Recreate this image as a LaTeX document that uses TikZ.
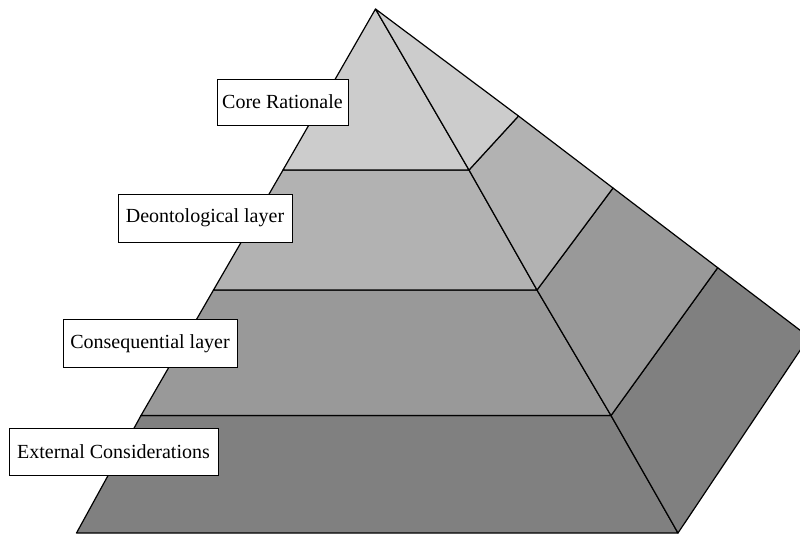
\documentclass[tikz,border=0pt]{standalone}
\usepackage{fontspec}
\setmainfont{Liberation Serif}
\begin{document}
\begin{tikzpicture}[x=1pt,y=-1pt,
  facet/.style={draw=black,line width=1.2pt,line join=round},
  tag/.style={draw=black,line width=1pt,fill=white,inner sep=0pt,
    font=\fontsize{20}{24}\selectfont},
]
\definecolor{tierA}{gray}{0.80}
\definecolor{tierB}{gray}{0.70}
\definecolor{tierC}{gray}{0.60}
\definecolor{tierD}{gray}{0.50}
\useasboundingbox (0,0) rectangle (800,535);
\clip (0,0) rectangle (800,535);

% corner points: apex, left edge (L), front-right edge (F), back-right edge (R)
\coordinate (apex) at (375.5,9);
\coordinate (L1) at (283,170);   \coordinate (F1) at (469,170);   \coordinate (R1) at (518.5,116);
\coordinate (L2) at (213.5,290); \coordinate (F2) at (537,290);   \coordinate (R2) at (613,188);
\coordinate (L3) at (141,415.5); \coordinate (F3) at (611,415.5); \coordinate (R3) at (717.7,267.7);
\coordinate (L4) at (76.5,533);  \coordinate (F4) at (678,533);   \coordinate (R4) at (809,337);

% bottom tier
\draw[facet,fill=tierD] (L3) -- (F3) -- (F4) -- (L4) -- cycle;
\draw[facet,fill=tierD] (F3) -- (R3) -- (R4) -- (F4) -- cycle;
% third tier
\draw[facet,fill=tierC] (L2) -- (F2) -- (F3) -- (L3) -- cycle;
\draw[facet,fill=tierC] (F2) -- (R2) -- (R3) -- (F3) -- cycle;
% second tier
\draw[facet,fill=tierB] (L1) -- (F1) -- (F2) -- (L2) -- cycle;
\draw[facet,fill=tierB] (F1) -- (R1) -- (R2) -- (F2) -- cycle;
% top tier
\draw[facet,fill=tierA] (apex) -- (F1) -- (L1) -- cycle;
\draw[facet,fill=tierA] (apex) -- (R1) -- (F1) -- cycle;

% labels
\node[tag,minimum width=131pt,minimum height=46pt] (core) at (282.5,102) {Core Rationale};
\node[tag,minimum width=174pt,minimum height=48pt] (deon) at (205,218) {Deontological layer};
\node[tag,minimum width=174pt,minimum height=48pt] (cons) at (150,343.5) {Consequential layer};
\node[tag,minimum width=209pt,minimum height=47pt] (ext) at (113.5,451.5) {External Considerations};
\end{tikzpicture}
\end{document}
